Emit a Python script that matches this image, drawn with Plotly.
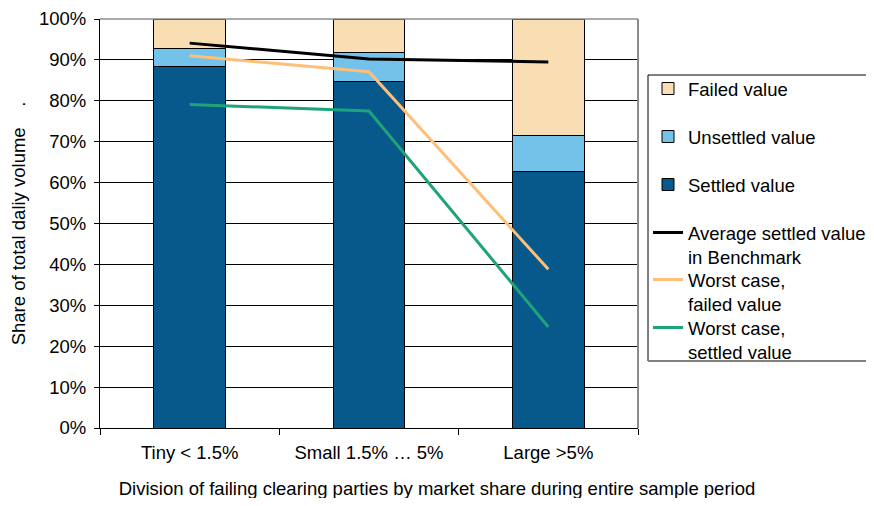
import plotly.graph_objects as go

categories = ["Tiny < 1.5%", "Small 1.5% \u2026 5%", "Large >5%"]
settled = [0.885, 0.847, 0.626]
unsettled = [0.043, 0.072, 0.088]
failed = [0.072, 0.081, 0.286]
avg_benchmark = [0.941, 0.902, 0.895]
worst_failed = [0.910, 0.871, 0.388]
worst_settled = [0.791, 0.775, 0.247]

y_ticks = [0, 0.1, 0.2, 0.3, 0.4, 0.5, 0.6, 0.7, 0.8, 0.9, 1.0]

FONT = "Liberation Sans, Arial, sans-serif"
FS = 18.5

# the page body adds an 8px margin, so the figure is laid out 8px up/left
SHIFT = 8
FIG_W, FIG_H = 874 - SHIFT, 506 - 2 * SHIFT

fig = go.Figure()

bar_specs = [
    ("Settled value", settled, "#06598A", "legend3"),
    ("Unsettled value", unsettled, "#72C2EA", "legend2"),
    ("Failed value", failed, "#FADEB3", "legend"),
]
for name, vals, color, lg in bar_specs:
    fig.add_trace(go.Bar(
        x=categories, y=vals, name=name, width=0.4,
        marker=dict(color=color, line=dict(color="#000000", width=1)),
        legend=lg,
    ))

line_specs = [
    ("Average settled value<br>in Benchmark", avg_benchmark, "#000000", "legend4"),
    ("Worst case,<br>failed value", worst_failed, "#FFBF78", "legend5"),
    ("Worst case,<br>settled value", worst_settled, "#1FA37A", "legend6"),
]
for name, vals, color, lg in line_specs:
    fig.add_trace(go.Scatter(
        x=categories, y=vals, name=name, mode="lines",
        line=dict(color=color, width=3),
        legend=lg,
    ))

# plot area in reference pixels
plot_left, plot_right, plot_top, plot_bot = 100, 638, 19, 428
W = plot_right - plot_left
H = plot_bot - plot_top

def px_x(x):
    return (x - plot_left) / W

def px_y(y):
    return (plot_bot - y) / H

# legend: one legend per entry, placed in equal slots
first_line_px = [89, 137, 185, 233, 280, 328]
offset = 19
legend_keys = ["legend", "legend2", "legend3", "legend4", "legend5", "legend6"]
legends = {}
for key, py in zip(legend_keys, first_line_px):
    legends[key] = dict(
        x=px_x(648), xanchor="left", y=px_y(py - offset), yanchor="top",
        bgcolor="rgba(0,0,0,0)", borderwidth=0, bordercolor="rgba(0,0,0,0)",
        itemwidth=30, valign="top",
        font=dict(family=FONT, size=FS, color="#000000"),
    )

fig.update_layout(
    width=FIG_W, height=FIG_H,
    margin=dict(l=plot_left - SHIFT, r=874 - plot_right, t=plot_top - SHIFT,
                b=FIG_H - (plot_bot - SHIFT), autoexpand=False),
    paper_bgcolor="white", plot_bgcolor="white",
    barmode="stack", showlegend=True,
    font=dict(family=FONT, size=FS, color="#000000"),
    title=dict(
        text="Division of failing clearing parties by market share during entire sample period",
        xref="container", x=(437 - SHIFT) / FIG_W, xanchor="center",
        yref="container", y=0.0, yanchor="bottom", pad=dict(b=3),
        font=dict(family=FONT, size=FS, color="#000000"),
    ),
    **legends,
)

fig.update_xaxes(
    type="category", showline=True, linecolor="#000000", linewidth=1,
    ticks="outside", ticklen=6, tickcolor="#000000", tickson="boundaries",
    ticklabelstandoff=8,
    showgrid=False, tickfont=dict(family=FONT, size=FS, color="#000000"),
)
fig.update_yaxes(
    range=[0, 1], tickvals=y_ticks, tickformat=".0%",
    showline=True, linecolor="#000000", linewidth=1,
    ticks="outside", ticklen=5, tickcolor="#000000", ticklabelstandoff=4,
    showgrid=True, gridcolor="#000000", gridwidth=1, zeroline=False,
    tickfont=dict(family=FONT, size=FS, color="#000000"),
    title=dict(text="Share of total daliy volume\u00a0\u00a0\u00a0\u00a0.", standoff=10,
               font=dict(family=FONT, size=FS, color="#000000")),
)

# grey top/right plot border
fig.add_shape(type="line", xref="paper", yref="paper", x0=0, x1=1, y0=1, y1=1,
              line=dict(color="#8C8C8C", width=1.5), layer="above")
fig.add_shape(type="line", xref="paper", yref="paper", x0=1, x1=1, y0=0, y1=1,
              line=dict(color="#8C8C8C", width=2), layer="above")
# legend box (its right side runs off the picture)
box_l, box_r, box_t, box_b = px_x(648), px_x(874), px_y(75), px_y(361)
fig.add_shape(type="line", xref="paper", yref="paper", x0=box_l, x1=box_l, y0=box_b, y1=box_t,
              line=dict(color="#000000", width=1), layer="above")
fig.add_shape(type="line", xref="paper", yref="paper", x0=box_l, x1=box_r, y0=box_t, y1=box_t,
              line=dict(color="#000000", width=1), layer="above")
fig.add_shape(type="line", xref="paper", yref="paper", x0=box_l, x1=box_r, y0=box_b, y1=box_b,
              line=dict(color="#808080", width=2), layer="above")

fig.write_html("out.html")
